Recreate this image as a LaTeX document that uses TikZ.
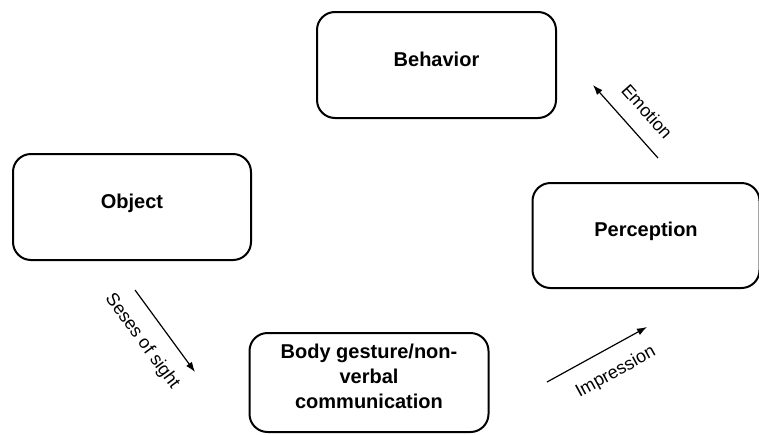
\documentclass[tikz,border=0pt]{standalone}
\usepackage{fontspec}
\setmainfont{Liberation Sans}
\usetikzlibrary{arrows.meta}

\begin{document}
\begin{tikzpicture}[> = {Latex[length = 5pt, width = 3.6pt]}, x = 0.5pt, y = -0.5pt,
	stagebox/.style = {draw, line width = 1pt, rounded corners = 9pt, minimum width = 119.5pt, minimum height = 53pt, align = center, text depth = 6pt, font = \fontsize{10}{12.5}\selectfont\bfseries},
	flowlabel/.style = {sloped, font = \fontsize{9}{10.5}\selectfont}]

	% Frame
	
	\useasboundingbox (0, 0) rectangle (759, 434);
	
	% Stages
	
	\node [stagebox] (behavior) at (436.5, 65) {Behavior};
	\node [stagebox, minimum width = 119pt] (object) at (132, 207) {Object};
	\node [stagebox, minimum width = 113.5pt, minimum height = 52.5pt] (perception) at (646, 235.5) {Perception};
	\node [stagebox, minimum height = 49.5pt] (body) at (369, 382.5) {Body gesture/non-\\verbal\\communication};
	
	% Arrow ends
	
	\coordinate (sight tail) at (135, 290);
	\coordinate (sight tip) at (195, 372);
	\coordinate (impression tail) at (547, 382);
	\coordinate (impression tip) at (647, 327);
	\coordinate (emotion tail) at (658, 158);
	\coordinate (emotion tip) at (593, 85);
	
	% Arrows
	
	\draw [->, line width = 0.6pt] (sight tail) -- node [flowlabel, below = 4.5pt, pos = 0.45] {Seses of sight} (sight tip);
	\draw [->, line width = 0.6pt] (impression tail) -- node [flowlabel, below = 4.5pt, pos = 0.57] {Impression} (impression tip);
	\draw [->, line width = 0.6pt] (emotion tail) -- node [flowlabel, above = 4.5pt, pos = 0.43] {Emotion} (emotion tip);

\end{tikzpicture}
\end{document}
